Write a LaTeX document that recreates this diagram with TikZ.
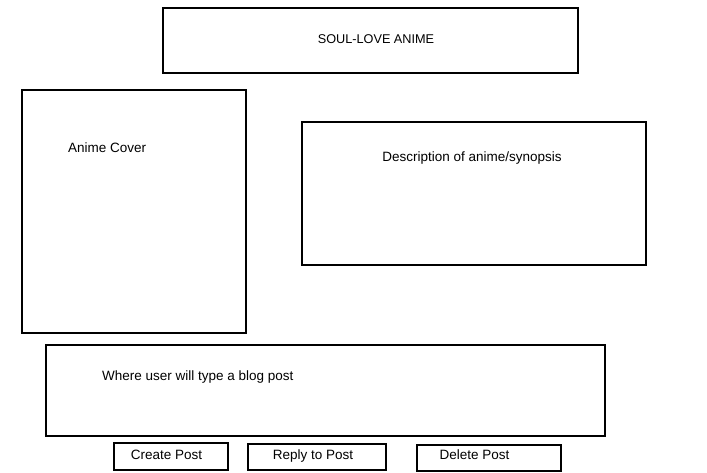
\documentclass[tikz,border=0pt]{standalone}
\usepackage{fontspec}
\setmainfont{Liberation Sans}
\begin{document}
\begin{tikzpicture}[x=1pt,y=-1pt,
  box/.style={draw=black, line width=2pt, inner sep=0pt, outer sep=0pt, rectangle},
  lbl/.style={inner sep=0pt, font=\fontsize{13.5}{15}\selectfont, text=black}]
\useasboundingbox[fill=white] (0,0) rectangle (707,472);
\node[box, minimum width=415pt, minimum height=65pt] (title) at (370.5,40.5) {};
\node[lbl, font=\fontsize{12.7}{14}\selectfont] (titlet) at (376,39) {SOUL-LOVE ANIME};
\node[box, minimum width=224pt, minimum height=243pt] (cover) at (134,211.5) {};
\node[lbl, anchor=west] (covert) at (68,148) {Anime Cover};
\node[box, minimum width=344pt, minimum height=143pt] (desc) at (474,193.5) {};
\node[lbl] (desct) at (472,158) {Description of anime/synopsis};
\node[box, minimum width=559pt, minimum height=91pt] (blog) at (325.5,390.5) {};
\node[lbl, anchor=west] (blogt) at (102,377.5) {Where user will type a blog post};
\node[box, minimum width=114pt, minimum height=27pt] (create) at (171,456.5) {};
\node[lbl] (createt) at (166.5,455) {Create Post};
\node[box, minimum width=138pt, minimum height=26pt] (reply) at (317,457) {};
\node[lbl] (replyt) at (313,456) {Reply to Post};
\node[box, minimum width=144pt, minimum height=26pt] (delete) at (489,458) {};
\node[lbl] (deletet) at (474.5,455) {Delete Post};
\end{tikzpicture}
\end{document}
